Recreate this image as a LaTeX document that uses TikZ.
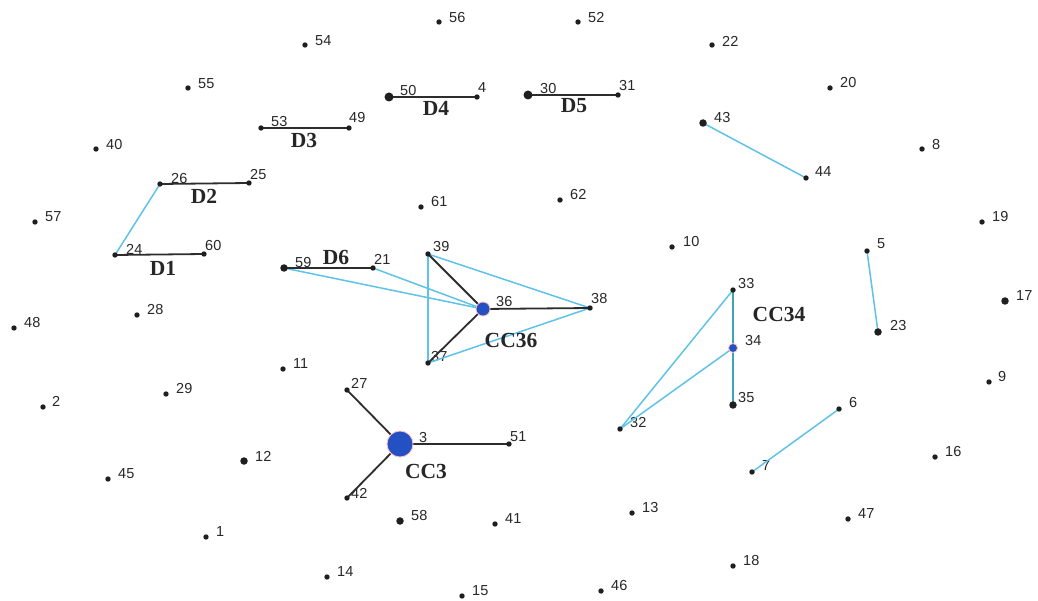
\documentclass[tikz,border=0pt]{standalone}
\usepackage{fontspec}
\setmainfont{Liberation Serif}
\newfontfamily\numfont{Liberation Sans}
\definecolor{edgeblue}{RGB}{95,195,232}
\definecolor{edgeteal}{RGB}{60,165,175}
\definecolor{edgedark}{RGB}{45,45,45}
\definecolor{hubblue}{RGB}{35,80,195}
\definecolor{numgray}{RGB}{40,40,40}
\begin{document}
\begin{tikzpicture}[x=1pt,y=-1pt,
  dot/.style={circle,fill=black!88,inner sep=0pt,minimum size=5.4pt},
  meddot/.style={dot,minimum size=7.5pt},
  bigdot/.style={dot,minimum size=9pt},
  hub/.style={circle,fill=hubblue,draw=red!25,line width=0.8pt,inner sep=0pt},
  num/.style={anchor=west,inner sep=0pt,font=\numfont\fontsize{14.5}{14.5}\selectfont,text=numgray},
  grp/.style={inner sep=0pt,font=\bfseries\fontsize{21.5}{21.5}\selectfont,text=black!85},
  dk/.style={draw=edgedark,line width=1.8pt},
  lb/.style={draw=edgeblue,line width=1.5pt},
  tl/.style={draw=edgeteal,line width=1.7pt}]
\fill[white] (0,0) rectangle (1038,601);
\useasboundingbox (0,0) rectangle (1038,601);
% plain dots: name/x/y/dx/dy
\foreach \n/\x/\y/\dx/\dy in {56/439/22/10/-4, 52/578/22/10/-4, 54/305/45/10/-4, 22/712/45/10/-4,
  55/188/88/10/-4, 20/830/88/10/-5, 4/477/97/1/-9, 31/618/95/1/-9, 53/261/128/10/-6,
  49/349/128/0/-10, 40/96/149/10/-4, 8/922/149/10/-4, 26/160/184/11/-5, 25/249/183/1/-8,
  44/806/178/9/-6, 62/560/200/10/-5, 61/421/207/10/-5, 57/35/222/10/-5, 19/982/222/10/-5,
  10/672/247/11/-5, 5/867/251/10/-7, 24/115/255/11/-6, 60/204/254/1/-8, 21/373/268/1/-9,
  39/428/254/5/-7, 38/590/308/1/-9, 37/428/363/3/-6, 33/733/290/5/-6, 28/137/315/10/-5,
  48/14/328/10/-5, 11/283/369/10/-5, 27/347/390/4/-7, 29/166/394/10/-5, 9/989/382/9/-5,
  2/43/407/9/-6, 6/839/409/10/-6, 32/620/429/10/-6, 51/509/444/1/-7, 16/935/457/10/-5,
  7/752/472/10/-6, 45/108/479/10/-5, 42/347/498/4/-5, 41/495/524/10/-5, 13/632/513/10/-5,
  47/848/519/10/-5, 1/206/537/10/-5, 18/733/566/10/-5, 14/327/577/10/-5, 15/462/596/10/-5,
  46/601/591/10/-5}
  {\coordinate (c\n) at (\x,\y);
   \node[num] (l\n) at (\x+\dx,\y+\dy) {\n};}
\foreach \n/\x/\y/\dx/\dy in {43/703/123/11/-5, 59/284/268/11/-5, 35/733/405/5/-7,
  17/1005/301/11/-5, 23/878/332/12/-6, 12/244/461/11/-5, 58/400/521/11/-5}
  {\coordinate (c\n) at (\x,\y);
   \node[num] (l\n) at (\x+\dx,\y+\dy) {\n};}
\foreach \n/\x/\y/\dx/\dy in {50/389/97/11/-6, 30/528/95/12/-6}
  {\coordinate (c\n) at (\x,\y);
   \node[num] (l\n) at (\x+\dx,\y+\dy) {\n};}
\coordinate (c3) at (400,444); \node[num] (l3) at (419,438) {3};
\coordinate (c36) at (483,309); \node[num] (l36) at (496,302) {36};
\coordinate (c34) at (733,348); \node[num] (l34) at (745,341) {34};
% edges
\draw[lb] (c24) -- (c26);
\draw[lb] (c43) -- (c44);
\draw[lb] (c5) -- (c23);
\draw[lb] (c6) -- (c7);
\draw[lb] (c59) -- (c36);
\draw[lb] (c21) -- (c36);
\draw[lb] (c39) -- (c37);
\draw[lb] (c39) -- (c38);
\draw[lb] (c37) -- (c38);
\draw[lb] (c33) -- (c32);
\draw[lb] (c34) -- (c32);
\draw[tl] (c33) -- (c34);
\draw[tl] (c34) -- (c35);
\draw[dk] (c24) -- (c60);
\draw[dk] (c26) -- (c25);
\draw[dk] (c53) -- (c49);
\draw[dk] (c50) -- (c4);
\draw[dk] (c30) -- (c31);
\draw[dk] (c59) -- (c21);
\draw[dk] (c39) -- (c36);
\draw[dk] (c37) -- (c36);
\draw[dk] (c36) -- (c38);
\draw[dk] (c3) -- (c27);
\draw[dk] (c3) -- (c42);
\draw[dk] (c3) -- (c51);
% dots
\foreach \n in {56,52,54,22,55,20,4,31,53,49,40,8,26,25,44,62,61,57,19,10,5,24,60,21,
  39,38,37,33,28,48,11,27,29,9,2,6,32,51,16,7,45,42,41,13,47,1,18,14,15,46}
  {\node[dot] (n\n) at (c\n) {};}
\foreach \n in {43,59,35,17,23,12,58}
  {\node[meddot] (n\n) at (c\n) {};}
\foreach \n in {50,30}
  {\node[bigdot] (n\n) at (c\n) {};}
\node[hub,minimum size=26pt] (n3) at (c3) {};
\node[hub,minimum size=14pt] (n36) at (c36) {};
\node[hub,minimum size=9pt] (n34) at (c34) {};
% group labels
\node[grp] (gD1) at (163,268) {D1};
\node[grp] (gD2) at (204,196) {D2};
\node[grp] (gD3) at (304,140) {D3};
\node[grp] (gD4) at (436,108) {D4};
\node[grp] (gD5) at (574,106) {D5};
\node[grp] (gD6) at (336,257) {D6};
\node[grp] (gCC36) at (511,340) {CC36};
\node[grp] (gCC3) at (426,471) {CC3};
\node[grp] (gCC34) at (779,314) {CC34};
\end{tikzpicture}
\end{document}
